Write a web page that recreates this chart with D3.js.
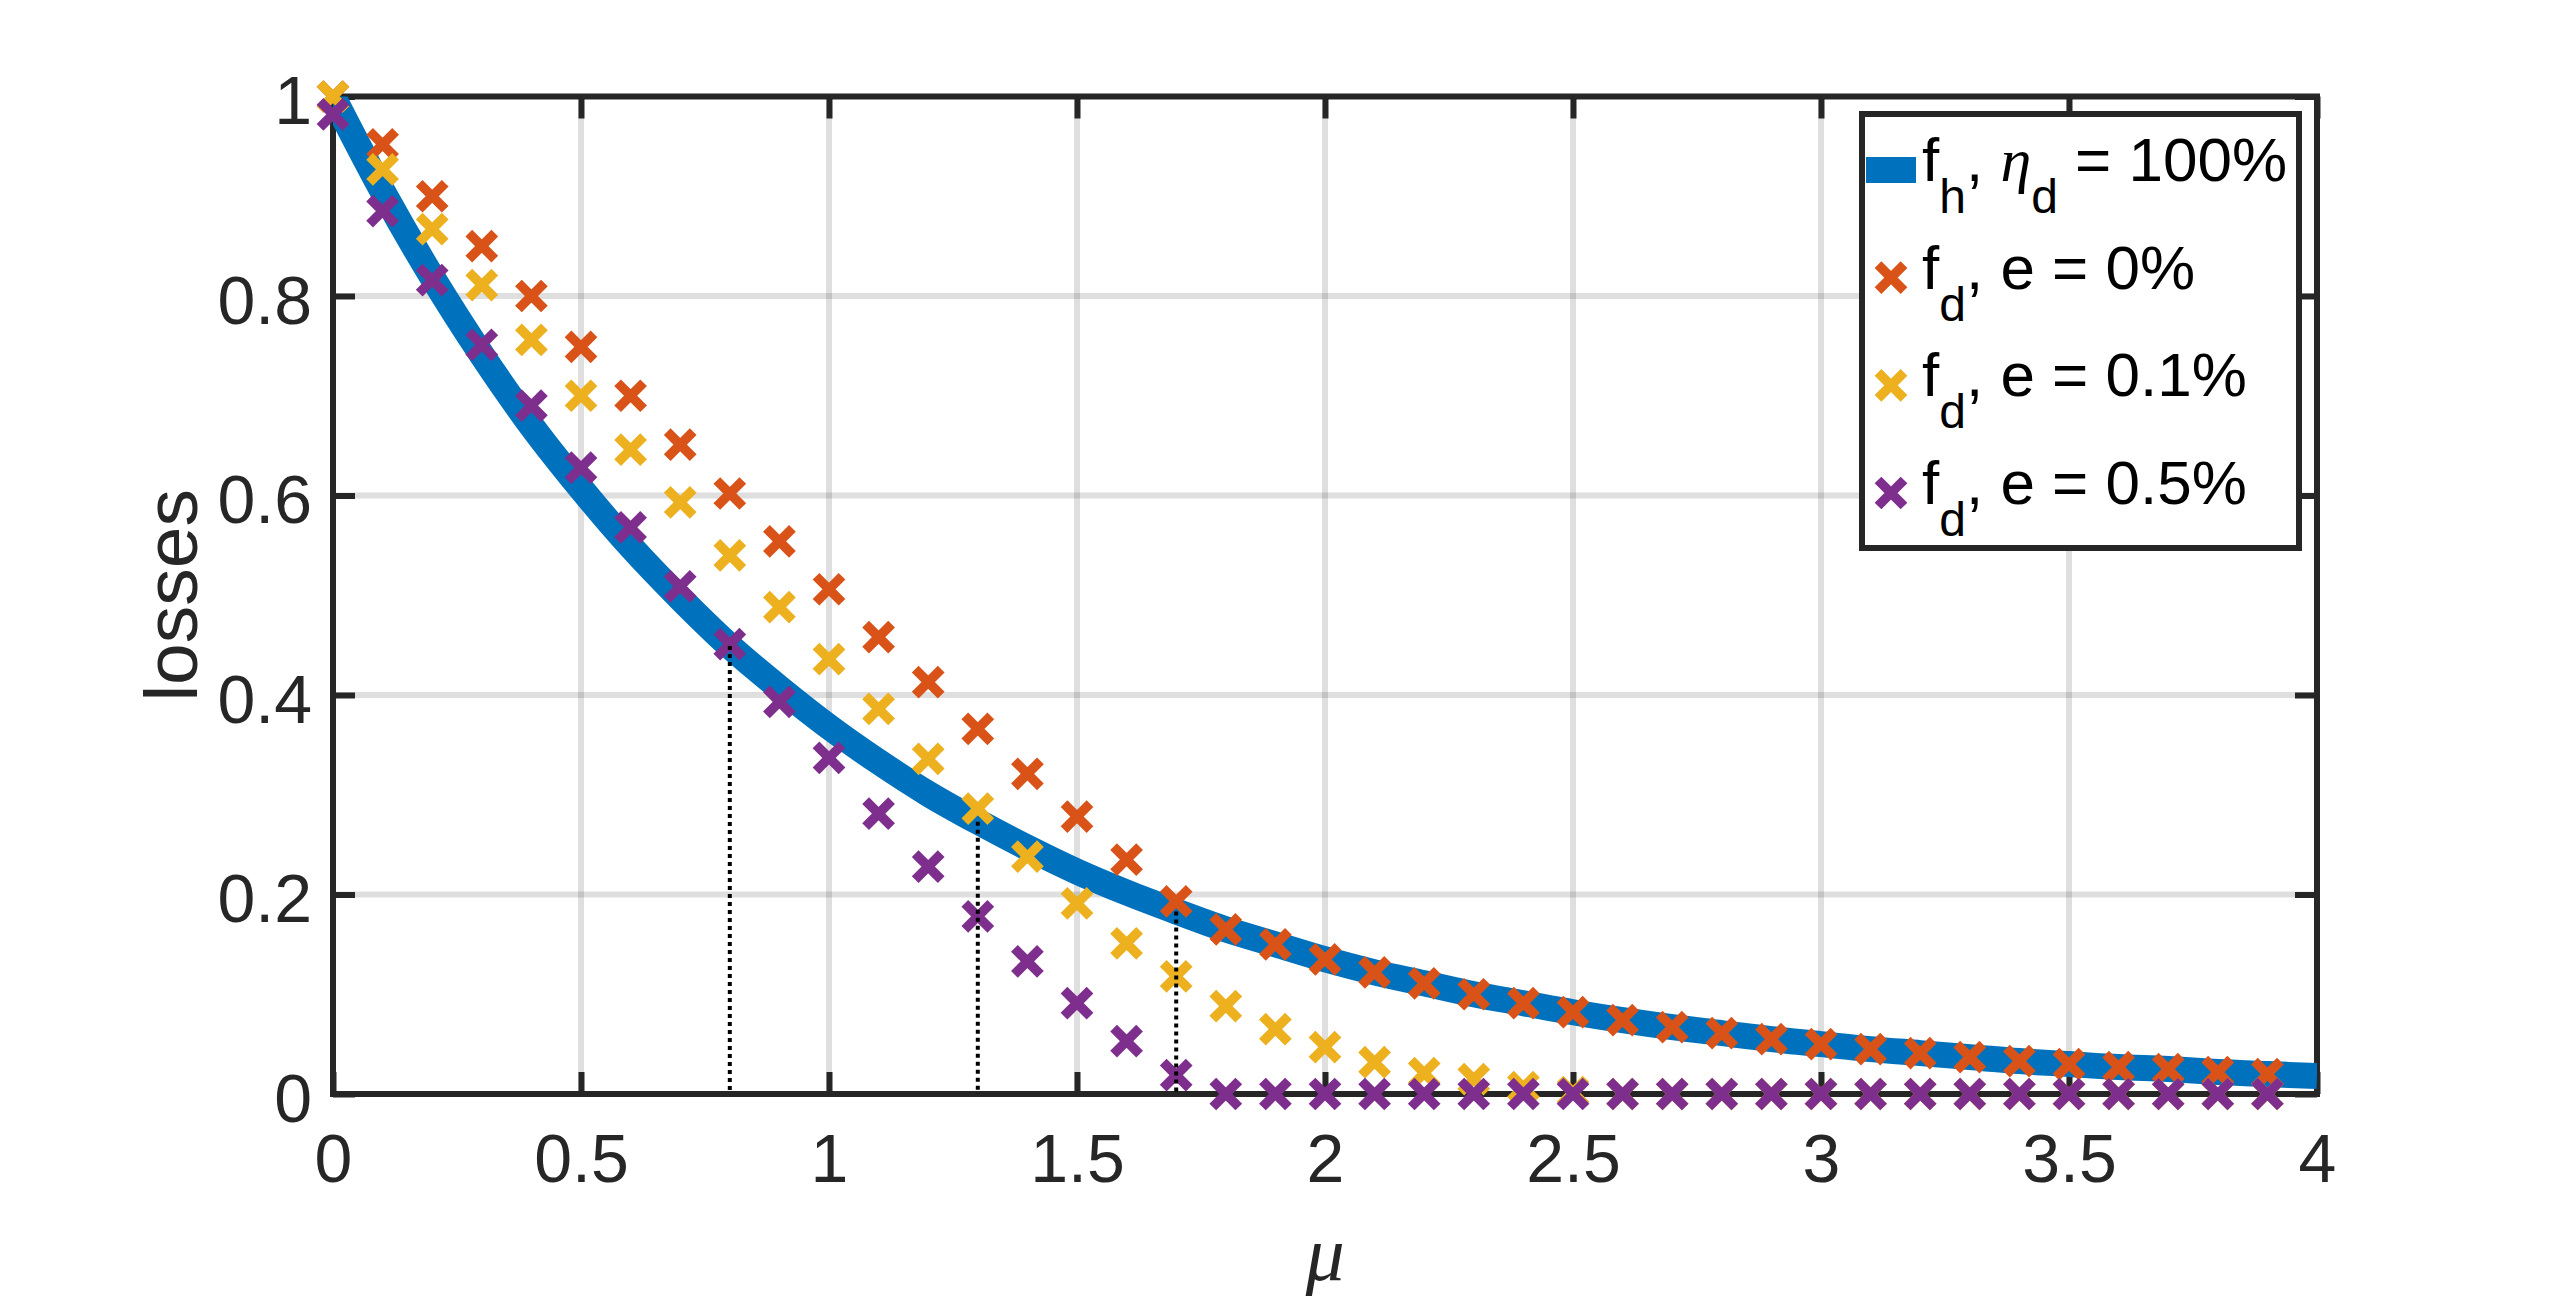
<!DOCTYPE html>
<html>
<head>
<meta charset="utf-8">
<script src="https://cdn.jsdelivr.net/npm/d3@7"></script>
<style>
  body { margin: 0; background: #fff; }
  svg { display: block; }
</style>
</head>
<body>
<script>
// values
var muCurve = [0, 0.1, 0.2, 0.3, 0.4, 0.5, 0.6, 0.7, 0.8, 0.9, 1.0, 1.1, 1.2, 1.3, 1.4, 1.5, 1.6, 1.7, 1.8, 1.9, 2.0,
               2.1, 2.2, 2.3, 2.4, 2.5, 2.6, 2.7, 2.8, 2.9, 3.0, 3.1, 3.2, 3.3, 3.4, 3.5, 3.6, 3.7, 3.8, 3.9, 4.0];
var lossH = [1.000, 0.905, 0.819, 0.741, 0.670, 0.607, 0.549, 0.497, 0.449, 0.407, 0.368, 0.333, 0.301, 0.273, 0.247,
             0.223, 0.202, 0.183, 0.165, 0.150, 0.135, 0.122, 0.111, 0.100, 0.091, 0.082, 0.074, 0.067, 0.061, 0.055,
             0.050, 0.045, 0.041, 0.037, 0.033, 0.030, 0.027, 0.025, 0.022, 0.020, 0.018];

var muMarks = [0, 0.1, 0.2, 0.3, 0.4, 0.5, 0.6, 0.7, 0.8, 0.9, 1.0, 1.1, 1.2, 1.3, 1.4, 1.5, 1.6, 1.7, 1.8, 1.9,
               2.0, 2.1, 2.2, 2.3, 2.4, 2.5, 2.6, 2.7, 2.8, 2.9, 3.0, 3.1, 3.2, 3.3, 3.4, 3.5, 3.6, 3.7, 3.8, 3.9];
var lossE0 = [1.000, 0.952, 0.900, 0.850, 0.800, 0.749, 0.700, 0.651, 0.602, 0.554, 0.506, 0.458, 0.413, 0.366, 0.321,
              0.278, 0.235, 0.193, 0.165, 0.150, 0.135, 0.122, 0.111, 0.100, 0.091, 0.082, 0.074, 0.067, 0.061, 0.055,
              0.050, 0.045, 0.041, 0.037, 0.033, 0.030, 0.027, 0.025, 0.022, 0.020];
var lossE01 = [1.000, 0.927, 0.867, 0.811, 0.756, 0.700, 0.646, 0.593, 0.540, 0.488, 0.436, 0.386, 0.336, 0.286, 0.238,
               0.191, 0.151, 0.118, 0.088, 0.065, 0.047, 0.032, 0.021, 0.015, 0.007, 0.002, 0, 0, 0, 0,
               0, 0, 0, 0, 0, 0, 0, 0, 0, 0];
var lossE05 = [0.982, 0.885, 0.816, 0.751, 0.690, 0.628, 0.568, 0.509, 0.451, 0.393, 0.337, 0.281, 0.228, 0.178, 0.133,
               0.091, 0.053, 0.019, 0, 0, 0, 0, 0, 0, 0, 0, 0, 0, 0, 0,
               0, 0, 0, 0, 0, 0, 0, 0, 0, 0];

// dotted drop lines
var dropMu = [0.8, 1.3, 1.7];
var dropLoss = [0.449, 0.273, 0.183];

var xTicks = [0, 0.5, 1, 1.5, 2, 2.5, 3, 3.5, 4];
var yTicks = [0, 0.2, 0.4, 0.6, 0.8, 1];

var axisColor = "#262626";
var font = "'Liberation Sans', Arial, Helvetica, sans-serif";

var svg = d3.select("body").append("svg")
    .attr("width", 2560)
    .attr("height", 1296);

var x = d3.scaleLinear().domain([0, 4]).range([333, 2317]);
var y = d3.scaleLinear().domain([0, 1]).range([1094, 96.5]);

var plotLeft = x(0), plotRight = x(4), plotTop = y(1), plotBottom = y(0);

svg.append("defs").append("clipPath").attr("id", "plotClip")
    .append("rect")
    .attr("x", plotLeft).attr("y", plotTop)
    .attr("width", plotRight - plotLeft).attr("height", plotBottom - plotTop);

// grid
var grid = svg.append("g").attr("class", "grid")
    .style("stroke", axisColor)
    .style("stroke-opacity", 0.15)
    .style("stroke-width", 6);

grid.selectAll(".gx").data(xTicks.slice(1, -1)).enter().append("line")
    .attr("class", "gx")
    .attr("x1", function (d) { return x(d); })
    .attr("x2", function (d) { return x(d); })
    .attr("y1", plotTop).attr("y2", plotBottom);

grid.selectAll(".gy").data(yTicks.slice(1, -1)).enter().append("line")
    .attr("class", "gy")
    .attr("y1", function (d) { return y(d); })
    .attr("y2", function (d) { return y(d); })
    .attr("x1", plotLeft).attr("x2", plotRight);

// axes, ticks pointing inward on all four sides
function styleAxis(g) {
    g.select(".domain").remove();
    g.selectAll(".tick line").style("stroke", axisColor).style("stroke-width", 6);
    g.selectAll(".tick text")
        .style("fill", axisColor)
        .style("font-family", font)
        .style("font-size", "68px");
}

var xAxis = svg.append("g")
    .attr("transform", "translate(0," + plotBottom + ")")
    .call(d3.axisBottom(x).tickValues(xTicks).tickSizeInner(-22).tickSizeOuter(0)
        .tickFormat(function (d) { return String(d); }))
    .call(styleAxis);
xAxis.selectAll(".tick text").attr("y", 88).attr("dy", null);

var yAxis = svg.append("g")
    .attr("transform", "translate(" + plotLeft + ",0)")
    .call(d3.axisLeft(y).tickValues(yTicks).tickSizeInner(-22).tickSizeOuter(0)
        .tickFormat(function (d) { return String(d); }))
    .call(styleAxis);
yAxis.selectAll(".tick text").attr("x", -21).attr("dy", "0.4em");

svg.append("g")
    .attr("transform", "translate(0," + plotTop + ")")
    .call(d3.axisTop(x).tickValues(xTicks).tickSizeInner(-22).tickSizeOuter(0).tickFormat(""))
    .call(styleAxis);

svg.append("g")
    .attr("transform", "translate(" + plotRight + ",0)")
    .call(d3.axisRight(y).tickValues(yTicks).tickSizeInner(-22).tickSizeOuter(0).tickFormat(""))
    .call(styleAxis);

svg.append("rect")
    .attr("x", plotLeft).attr("y", plotTop)
    .attr("width", plotRight - plotLeft).attr("height", plotBottom - plotTop)
    .style("fill", "none")
    .style("stroke", axisColor)
    .style("stroke-width", 6);

// axis labels
svg.append("text")
    .attr("transform", "translate(197," + ((plotTop + plotBottom) / 2) + ") rotate(-90)")
    .attr("text-anchor", "middle")
    .style("font-family", font)
    .style("font-size", "75px")
    .style("fill", axisColor)
    .text("losses");

svg.append("text")
    .attr("x", (plotLeft + plotRight) / 2)
    .attr("y", 1280)
    .attr("text-anchor", "middle")
    .style("font-family", "'Liberation Serif', 'Times New Roman', serif")
    .style("font-style", "italic")
    .style("font-size", "78px")
    .style("fill", axisColor)
    .text("μ");

// f_h curve
var line = d3.line()
    .x(function (d, i) { return x(muCurve[i]); })
    .y(function (d) { return y(d); })
    .curve(d3.curveMonotoneX);

svg.append("path")
    .datum(lossH)
    .attr("clip-path", "url(#plotClip)")
    .attr("d", line)
    .style("fill", "none")
    .style("stroke", "#0072BD")
    .style("stroke-width", 26);

// x markers
var cross = "M-13,-13L13,13M-13,13L13,-13";
var series = [
    { values: lossE0, color: "#D95319" },
    { values: lossE01, color: "#EDB120" },
    { values: lossE05, color: "#7E2F8E" }
];

series.forEach(function (s) {
    svg.append("g").selectAll("path").data(s.values).enter().append("path")
        .attr("transform", function (d, i) { return "translate(" + x(muMarks[i]) + "," + y(d) + ")"; })
        .attr("d", cross)
        .style("fill", "none")
        .style("stroke", s.color)
        .style("stroke-width", 9.5);
});

// dotted drops
svg.append("g").selectAll("line").data(dropMu).enter().append("line")
    .attr("x1", function (d) { return x(d); })
    .attr("x2", function (d) { return x(d); })
    .attr("y1", function (d, i) { return y(dropLoss[i]); })
    .attr("y2", plotBottom)
    .style("stroke", "#000")
    .style("stroke-width", 4)
    .style("stroke-dasharray", "4,4");

// legend
var legend = svg.append("g").attr("id", "legend");
legend.append("rect")
    .attr("x", 1862).attr("y", 114)
    .attr("width", 437).attr("height", 434)
    .style("fill", "#fff")
    .style("stroke", axisColor)
    .style("stroke-width", 6);

var rowY = [170, 277.7, 385.4, 493];

legend.append("line")
    .attr("x1", 1866).attr("x2", 1916)
    .attr("y1", rowY[0]).attr("y2", rowY[0])
    .style("stroke", "#0072BD")
    .style("stroke-width", 26);

series.forEach(function (s, i) {
    legend.append("path")
        .attr("transform", "translate(1891," + rowY[i + 1] + ")")
        .attr("d", cross)
        .style("fill", "none")
        .style("stroke", s.color)
        .style("stroke-width", 9.5);
});

var legendRest = [" = 100%", ", e = 0%", ", e = 0.1%", ", e = 0.5%"];
var legendSub = ["h", "d", "d", "d"];

legendRest.forEach(function (rest, i) {
    var t = legend.append("text")
        .attr("x", 1922)
        .attr("y", rowY[i] + 11)
        .style("font-family", font)
        .style("font-size", "62px")
        .style("fill", "#000");
    t.append("tspan").text("f");
    t.append("tspan").attr("dy", 32).style("font-size", "48px").text(legendSub[i]);
    if (i === 0) {
        t.append("tspan").attr("dy", -32).text(", ");
        t.append("tspan")
            .style("font-family", "'Liberation Serif', 'Times New Roman', serif")
            .style("font-style", "italic")
            .text("η");
        t.append("tspan").attr("dy", 32).style("font-size", "48px").text("d");
        t.append("tspan").attr("dy", -32).text(rest);
    } else {
        t.append("tspan").attr("dy", -32).text(rest);
    }
});
</script>
</body>
</html>
